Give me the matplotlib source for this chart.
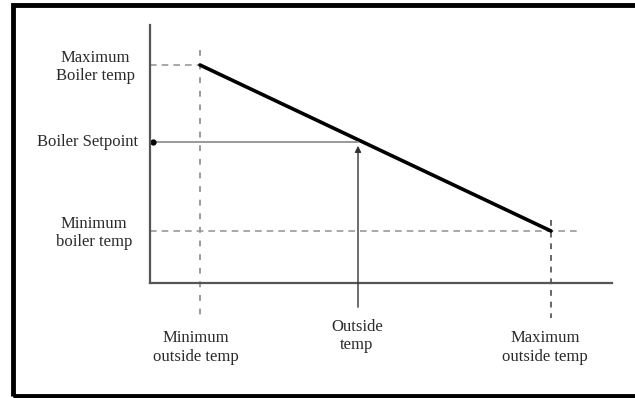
import matplotlib.pyplot as plt
from matplotlib.patches import Rectangle

# values in chart units (origin at the axes corner)
outside_pts = [50, 401]          # minimum / maximum outside temp
boiler_pts = [218, 52]           # maximum / minimum boiler temp
setpoint_x = 208                 # outside temp
setpoint_y = 141                 # boiler setpoint

y_labels = ["Maximum\nBoiler temp", "Boiler Setpoint", "Minimum\nboiler temp"]
x_labels = ["Minimum\noutside temp", "Outside\ntemp", "Maximum\noutside temp"]

plt.rcParams['font.family'] = ['Liberation Serif', 'DejaVu Serif']

W, H = 635, 398
fig = plt.figure(figsize=(W / 100, H / 100), dpi=100)
ax = fig.add_axes([150 / W, (H - 283) / H, (612 - 150) / W, (283 - 25) / H])
ax.set_xlim(0, 462)
ax.set_ylim(0, 258)
ax.set_xticks([])
ax.set_yticks([])
for s in ['top', 'right']:
    ax.spines[s].set_visible(False)
for s in ['left', 'bottom']:
    ax.spines[s].set_color('#555555')
    ax.spines[s].set_linewidth(1.6)

grey = '#9a9a9a'
# dashed guides to the y axis
ax.plot([0, outside_pts[0]], [boiler_pts[0], boiler_pts[0]], ls=(0, (4, 3)), color=grey, lw=1.2)
ax.plot([0, outside_pts[1] + 27], [boiler_pts[1], boiler_pts[1]], ls=(0, (4, 3)), color=grey, lw=1.2)
# dotted verticals
ax.plot([outside_pts[0]] * 2, [boiler_pts[0] + 15, -32], ls=(0, (3, 4)), color=grey, lw=1.4, clip_on=False)
ax.plot([outside_pts[1]] * 2, [boiler_pts[1] + 11, -35], ls=(0, (3, 3)), color='#666666', lw=1.4, clip_on=False)

# reset curve
ax.plot(outside_pts, boiler_pts, color='black', lw=2.6, solid_capstyle='round')

# setpoint construction
ax.plot([0, setpoint_x], [setpoint_y, setpoint_y], color='#888888', lw=1.2)
ax.annotate('', xy=(setpoint_x, setpoint_y - 1), xytext=(setpoint_x, -27),
            arrowprops=dict(arrowstyle='-|>', color='#333333', lw=1.0, mutation_scale=9),
            annotation_clip=False)
ax.plot([3], [setpoint_y], 'o', color='black', ms=3.5, clip_on=False)

tc = '#2a2a2a'
fs = 12
ls = 1.2
ax.text(-55, 216, y_labels[0], ha='center', va='center', fontsize=fs, color=tc, linespacing=ls)
ax.text(-12, setpoint_y, y_labels[1], ha='right', va='center', fontsize=fs, color=tc)
ax.text(-56, 50, y_labels[2], ha='center', va='center', fontsize=fs, color=tc, linespacing=ls)

ax.text(46, -64.5, x_labels[0], ha='center', va='center', fontsize=fs, color=tc, linespacing=ls)
ax.text(207, -53, x_labels[1], ha='center', va='center', fontsize=fs, color=tc, linespacing=ls)
ax.text(395, -64.5, x_labels[2], ha='center', va='center', fontsize=fs, color=tc, linespacing=ls)

# outer frame
fig.patches.append(Rectangle((13 / W, 2 / H), 1.0, (H - 7) / H, transform=fig.transFigure,
                             fill=False, edgecolor='black', lw=3.5))

fig.savefig('out.png', dpi=100)
